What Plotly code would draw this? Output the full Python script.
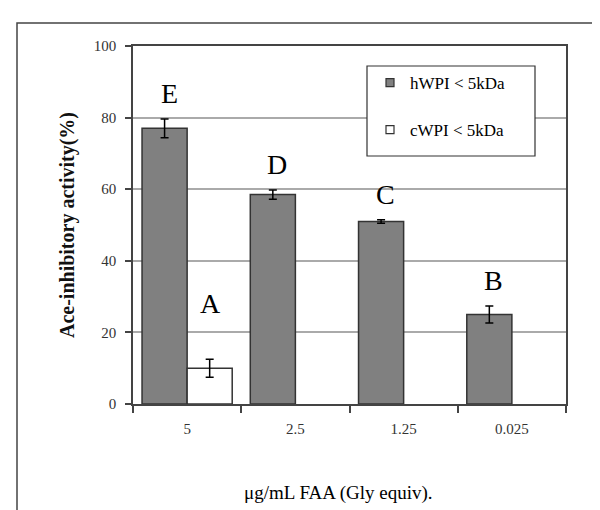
import plotly.graph_objects as go

categories = ["5", "2.5", "1.25", "0.025"]
hwpi = [77, 58.5, 51, 25]
hwpi_err = [2.6, 1.3, 0.5, 2.4]
cwpi = [10, None, None, None]
cwpi_err = [2.5, 0, 0, 0]
hwpi_letters = ["E", "D", "C", "B"]
cwpi_letters = ["A", "", "", ""]

SERIF = "Liberation Serif, Times New Roman, serif"

fig = go.Figure()
fig.add_trace(go.Bar(
    x=categories, y=hwpi, name="hWPI < 5kDa", showlegend=False,
    marker=dict(color="#808080", line=dict(color="#333333", width=1.5)),
    error_y=dict(type="data", array=hwpi_err, color="black", thickness=1.5, width=4),
))
fig.add_trace(go.Bar(
    x=categories, y=cwpi, name="cWPI < 5kDa", showlegend=False,
    marker=dict(color="white", line=dict(color="#333333", width=1.5)),
    error_y=dict(type="data", array=cwpi_err, color="black", thickness=1.5, width=4),
))
# legend entries (small square keys as in the reference)
fig.add_trace(go.Scatter(x=[None], y=[None], mode="markers", name="hWPI < 5kDa", legendgroup="a",
                         marker=dict(symbol="square", size=8, color="#808080",
                                     line=dict(color="#333333", width=1.2))))
fig.add_trace(go.Scatter(x=[None], y=[None], mode="markers", name="cWPI < 5kDa", legendgroup="b",
                         marker=dict(symbol="square", size=8, color="white",
                                     line=dict(color="#333333", width=1.2))))

annotations = []
for i, (v, e, t) in enumerate(zip(hwpi, hwpi_err, hwpi_letters)):
    if t:
        annotations.append(dict(x=i, y=v + e + 7, text=t, xref="x", yref="y", showarrow=False,
                                xshift=-18, yanchor="middle",
                                font=dict(family=SERIF, size=28, color="black")))
for i, (v, e, t) in enumerate(zip(cwpi, cwpi_err, cwpi_letters)):
    if t:
        annotations.append(dict(x=i, y=v + e + 15.5, text=t, xref="x", yref="y", showarrow=False,
                                xshift=23, yanchor="middle",
                                font=dict(family=SERIF, size=28, color="black")))

W, H = 600, 510
L, R, T, B = 125, 42, 38, 114
pw, ph = W - L - R, H - T - B

def px(x):
    return (x - L) / pw

def py(y):
    return (H - B - y) / ph

annotations.append(dict(text="μg/mL FAA (Gly equiv).", xref="paper", yref="paper",
                        x=px(330), y=py(485), showarrow=False,
                        xanchor="center", yanchor="middle",
                        font=dict(family=SERIF, size=19, color="black")))

shapes = [
    # outer frame
    dict(type="rect", xref="paper", yref="paper", x0=px(9), x1=px(640), y0=py(15), y1=py(560),
         line=dict(color="#444444", width=1.5), fillcolor="rgba(0,0,0,0)", layer="below"),
    # legend box
    dict(type="rect", xref="paper", yref="paper", x0=px(359), x1=px(527), y0=py(58), y1=py(148),
         line=dict(color="#333333", width=1.2), fillcolor="white", layer="above"),
]

fig.update_layout(
    width=W, height=H,
    margin=dict(l=L, r=R, t=T, b=B, autoexpand=False),
    paper_bgcolor="white", plot_bgcolor="white",
    barmode="group", bargap=0.167, bargroupgap=0,
    font=dict(family=SERIF, size=14, color="#333333"),
    showlegend=True,
    legend=dict(x=px(362), y=py(57), xanchor="left", yanchor="top",
                bgcolor="rgba(0,0,0,0)", borderwidth=0, tracegroupgap=22,
                font=dict(family=SERIF, size=17, color="black"), itemwidth=30),
    xaxis=dict(type="category", automargin=False, showline=True, linecolor="#444444", linewidth=1.5, mirror=True,
               ticks="outside", tickson="boundaries", ticklen=7, tickwidth=1.5, tickcolor="#444444",
               tickfont=dict(family=SERIF, size=15, color="#333333"), ticklabelstandoff=10,
               showgrid=False),
    yaxis=dict(range=[0, 100], dtick=20, automargin=False, showline=True, linecolor="#444444", linewidth=1.5, mirror=True,
               ticks="outside", ticklen=6, tickwidth=1.5, tickcolor="#444444",
               showgrid=True, gridcolor="#aaaaaa", gridwidth=1.5, zeroline=False,
               tickfont=dict(family=SERIF, size=15, color="#333333"), ticklabelstandoff=6,
               title=dict(text="<b>Ace-inhibitory activity(%)</b>", standoff=14,
                          font=dict(family=SERIF, size=20, color="#111111"))),
    annotations=annotations,
    shapes=shapes,
)

fig.write_html("out.html")
